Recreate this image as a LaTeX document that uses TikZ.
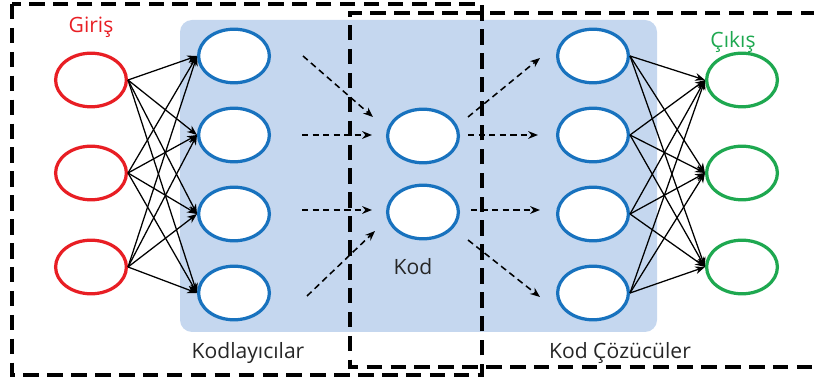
\documentclass[tikz,border=0pt]{standalone}
\usepackage{fontspec}
\setmainfont{Open Sans}
\usetikzlibrary{shapes.geometric,arrows.meta}

\definecolor{nred}{RGB}{232,30,36}
\definecolor{nblue}{RGB}{24,114,190}
\definecolor{ngreen}{RGB}{30,168,80}
\definecolor{bgblue}{RGB}{197,215,239}

\tikzset{
  neuron/.style={ellipse,draw,line width=2.3pt,fill=white,
    minimum width=1.77cm,minimum height=1.34cm,inner sep=0pt},
  innode/.style={neuron,draw=nred},
  hidnode/.style={neuron,draw=nblue},
  outnode/.style={neuron,draw=ngreen},
  link/.style={line width=0.9pt,-{Stealth[length=7pt,width=5.5pt]}},
  flow/.style={line width=1.1pt,dash pattern=on 4.5pt off 3pt,-{Stealth[length=7pt,width=5.5pt]}},
  frame/.style={line width=2.6pt,dash pattern=on 11pt off 6pt},
  lbl/.style={font=\fontsize{15}{17}\selectfont,text=black!85}
}

\begin{document}
\begin{tikzpicture}[x=0.025cm,y=-0.025cm]
  \useasboundingbox (0,0) rectangle (814,385);
  % shaded hidden part
  \fill[bgblue,rounded corners=0.3cm] (180,20) rectangle (657,332);

  \path
    (91,80)  node[innode] (in1) {}
    (91,173) node[innode] (in2) {}
    (91,267) node[innode] (in3) {}
    (234,56)  node[hidnode] (enc1) {}
    (234,135) node[hidnode] (enc2) {}
    (234,214) node[hidnode] (enc3) {}
    (234,293) node[hidnode] (enc4) {}
    (423,136) node[hidnode] (code1) {}
    (423,212) node[hidnode] (code2) {}
    (593,56)  node[hidnode] (dec1) {}
    (593,135) node[hidnode] (dec2) {}
    (593,214) node[hidnode] (dec3) {}
    (593,293) node[hidnode] (dec4) {}
    (742,80)  node[outnode] (out1) {}
    (742,173) node[outnode] (out2) {}
    (742,267) node[outnode] (out3) {};

  \node[lbl,text=nred] (giris) at (91,27) {Giriş};
  \node[lbl,text=ngreen] (cikis) at (733,42) {Çıkış};
  \node[lbl] (kod) at (413,267) {Kod};
  \node[lbl] (kodlayici) at (248,353) {Kodlayıcılar};
  \node[lbl] (cozucu) at (620,353) {Kod Çözücüler};

  % input -> encoder
  \begin{scope}[link]
    \draw (in1.east) to (enc1.west);
    \draw (in1.east) to (enc2.west);
    \draw (in1.east) to (enc3.west);
    \draw (in1.east) to (enc4.west);
    \draw (in2.east) to (enc1.west);
    \draw (in2.east) to (enc2.west);
    \draw (in2.east) to (enc3.west);
    \draw (in2.east) to (enc4.west);
    \draw (in3.east) to (enc1.west);
    \draw (in3.east) to (enc2.west);
    \draw (in3.east) to (enc3.west);
    \draw (in3.east) to (enc4.west);
  \end{scope}

  % decoder -> output
  \begin{scope}[link]
    \draw (dec1.east) to (out1.west);
    \draw (dec1.east) to (out2.west);
    \draw (dec1.east) to (out3.west);
    \draw (dec2.east) to (out1.west);
    \draw (dec2.east) to (out2.west);
    \draw (dec2.east) to (out3.west);
    \draw (dec3.east) to (out1.west);
    \draw (dec3.east) to (out2.west);
    \draw (dec3.east) to (out3.west);
    \draw (dec4.east) to (out1.west);
    \draw (dec4.east) to (out2.west);
    \draw (dec4.east) to (out3.west);
  \end{scope}

  % dashed flow into and out of the code layer
  \coordinate (fa1) at (303,56);   \coordinate (fb1) at (373,117);
  \coordinate (fa2) at (302,135);  \coordinate (fb2) at (372,135);
  \coordinate (fa3) at (302,210);  \coordinate (fb3) at (372,210);
  \coordinate (fa4) at (307,296);  \coordinate (fb4) at (375,231);
  \coordinate (ga1) at (468,117);  \coordinate (gb1) at (540,58);
  \coordinate (ga2) at (468,135);  \coordinate (gb2) at (538,135);
  \coordinate (ga3) at (471,210);  \coordinate (gb3) at (540,210);
  \coordinate (ga4) at (468,240);  \coordinate (gb4) at (540,297);
  \begin{scope}[flow]
    \draw (fa1) to (fb1);
    \draw (fa2) to (fb2);
    \draw (fa3) to (fb3);
    \draw (fa4) to (fb4);
    \draw (ga1) to (gb1);
    \draw (ga2) to (gb2);
    \draw (ga3) to (gb3);
    \draw (ga4) to (gb4);
  \end{scope}

  % encoder / decoder frames
  \draw[frame] (12,4) rectangle (482,375);
  \draw[frame] (840,13) -| (350,367) -- (840,367);
\end{tikzpicture}
\end{document}
